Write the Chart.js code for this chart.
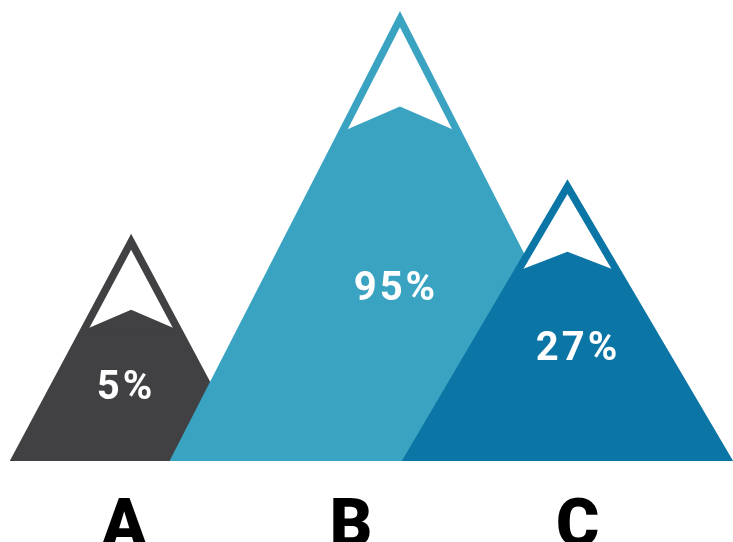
<!DOCTYPE html>
<html>
<head>
<meta charset="utf-8">
<script src="https://cdn.jsdelivr.net/npm/chart.js@4.4.1/dist/chart.umd.min.js"></script>
<style>
    html, body { margin: 0; padding: 0; background: #fff; }
</style>
</head>
<body>
<canvas id="myChart" width="733" height="542"></canvas>
<script>
var categories = ['A', 'B', 'C'];
var values = [5, 95, 27];
var colors = ['#414143', '#3aa3c1', '#0b75a6'];

// where each peak sits relative to its category (fraction of a category width) and how wide its sides spread
var peakShift = [0.03, 0.216, -0.045];
var sideSlope = [0.534, 0.512, 0.588];
// small nudges for the value text, in px
var labelNudge = [[-6.5, 3.5], [-5.5, 6.5], [9, -6]];

const mountains = {
    id: 'mountains',
    afterDatasetsDraw(chart) {
        const ctx = chart.ctx;
        const meta = chart.getDatasetMeta(0);
        const yScale = chart.scales.y;
        const base = chart.chartArea.bottom;
        const catW = chart.chartArea.width / categories.length;
        const t = 7.5;
        ctx.save();
        meta.data.forEach((bar, i) => {
            const px = bar.x + peakShift[i] * catW;
            const py = yScale.getPixelForValue(values[i]);
            const h = base - py;
            const s = sideSlope[i];
            const k = Math.sqrt(1 + s * s);

            // whole mountain
            ctx.fillStyle = colors[i];
            ctx.beginPath();
            ctx.moveTo(px - s * h, base);
            ctx.lineTo(px, py);
            ctx.lineTo(px + s * h, base);
            ctx.closePath();
            ctx.fill();

            // snow cap
            const capDepth = (40 + 0.047 * h) / s;
            const capY = py + capDepth;
            const innerTop = py + t * k / s;
            const innerHalf = s * capDepth - t * k;
            ctx.fillStyle = '#fff';
            ctx.beginPath();
            ctx.moveTo(px, innerTop);
            ctx.lineTo(px - innerHalf, capY);
            ctx.lineTo(px + innerHalf, capY);
            ctx.closePath();
            ctx.fill();

            // ridge under the snow, pushed a bit below so no seam shows
            const bumpY = capY - 0.2 * capDepth;
            ctx.fillStyle = colors[i];
            ctx.beginPath();
            ctx.moveTo(px - innerHalf - 2, capY + 4);
            ctx.lineTo(px - innerHalf - 2, capY);
            ctx.lineTo(px, bumpY);
            ctx.lineTo(px + innerHalf + 2, capY);
            ctx.lineTo(px + innerHalf + 2, capY + 4);
            ctx.closePath();
            ctx.fill();

            // value label
            ctx.fillStyle = '#fff';
            ctx.font = 'bold 40px Roboto';
            ctx.letterSpacing = '3px';
            ctx.textAlign = 'center';
            ctx.textBaseline = 'middle';
            ctx.fillText(values[i] + '%', px + 1.5 + labelNudge[i][0], (bumpY + base) / 2 + labelNudge[i][1]);
        });
        ctx.restore();
    }
};

new Chart(document.getElementById('myChart'), {
    type: 'bar',
    data: {
        labels: categories,
        datasets: [{
            data: values,
            backgroundColor: 'rgba(0,0,0,0)',
            borderWidth: 0
        }]
    },
    options: {
        responsive: false,
        animation: false,
        layout: { padding: { left: 11, right: 42, top: 0, bottom: 0 } },
        scales: {
            x: {
                grid: { display: false },
                border: { display: false },
                ticks: {
                    color: '#000',
                    padding: 21,
                    font: { family: 'Roboto', size: 66, weight: 900 }
                },
                afterFit(scale) { scale.height = 81; }
            },
            y: {
                display: false,
                min: -86.8,
                max: 99.4
            }
        },
        plugins: {
            legend: { display: false },
            tooltip: { enabled: false }
        }
    },
    plugins: [mountains]
});
</script>
</body>
</html>
